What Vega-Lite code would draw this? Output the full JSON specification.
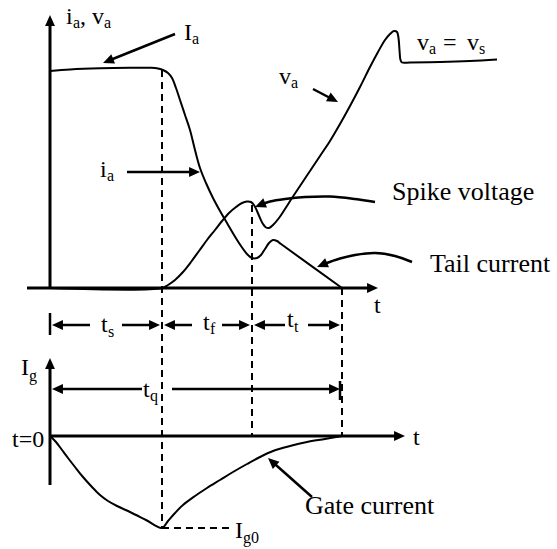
{
  "$schema": "https://vega.github.io/schema/vega-lite/v6.json",
  "width": 557,
  "height": 549,
  "padding": 0,
  "autosize": {"type": "fit", "contains": "padding"},
  "background": "white",
  "config": {"view": {"stroke": null}},
  "datasets": {
    "lines": [
      {"id": "ax1", "role": "axis", "x": 50, "y": 289}, {"id": "ax1", "role": "axis", "x": 50, "y": 22},
      {"id": "ax2", "role": "axis", "x": 27, "y": 288}, {"id": "ax2", "role": "axis", "x": 372, "y": 288},
      {"id": "ax3", "role": "axis", "x": 50, "y": 485}, {"id": "ax3", "role": "axis", "x": 50, "y": 365},
      {"id": "ax4", "role": "axis", "x": 50, "y": 436}, {"id": "ax4", "role": "axis", "x": 399, "y": 436},

      {"id": "ia", "role": "curve", "x": 50, "y": 71}, {"id": "ia", "role": "curve", "x": 70, "y": 69.5},
      {"id": "ia", "role": "curve", "x": 100, "y": 68.3}, {"id": "ia", "role": "curve", "x": 130, "y": 67.8},
      {"id": "ia", "role": "curve", "x": 150, "y": 67.8}, {"id": "ia", "role": "curve", "x": 158, "y": 68.5},
      {"id": "ia", "role": "curve", "x": 164, "y": 70.5}, {"id": "ia", "role": "curve", "x": 168, "y": 73},
      {"id": "ia", "role": "curve", "x": 172, "y": 78}, {"id": "ia", "role": "curve", "x": 176, "y": 88},
      {"id": "ia", "role": "curve", "x": 180, "y": 100}, {"id": "ia", "role": "curve", "x": 185, "y": 115},
      {"id": "ia", "role": "curve", "x": 190, "y": 130}, {"id": "ia", "role": "curve", "x": 195, "y": 150},
      {"id": "ia", "role": "curve", "x": 200, "y": 168}, {"id": "ia", "role": "curve", "x": 206, "y": 183},
      {"id": "ia", "role": "curve", "x": 213, "y": 198}, {"id": "ia", "role": "curve", "x": 220, "y": 211},
      {"id": "ia", "role": "curve", "x": 227, "y": 223}, {"id": "ia", "role": "curve", "x": 234, "y": 235},
      {"id": "ia", "role": "curve", "x": 241, "y": 246}, {"id": "ia", "role": "curve", "x": 247, "y": 254},
      {"id": "ia", "role": "curve", "x": 252, "y": 258}, {"id": "ia", "role": "curve", "x": 257, "y": 258},
      {"id": "ia", "role": "curve", "x": 261, "y": 255}, {"id": "ia", "role": "curve", "x": 265, "y": 249},
      {"id": "ia", "role": "curve", "x": 269, "y": 243}, {"id": "ia", "role": "curve", "x": 273, "y": 240},
      {"id": "ia", "role": "curve", "x": 277, "y": 241}, {"id": "ia", "role": "curve", "x": 281, "y": 244},
      {"id": "ia", "role": "curve", "x": 342, "y": 288},

      {"id": "va", "role": "curve", "x": 50, "y": 288}, {"id": "va", "role": "curve", "x": 162, "y": 288},
      {"id": "va", "role": "curve", "x": 168, "y": 285}, {"id": "va", "role": "curve", "x": 175, "y": 280},
      {"id": "va", "role": "curve", "x": 183, "y": 272}, {"id": "va", "role": "curve", "x": 191, "y": 262},
      {"id": "va", "role": "curve", "x": 199, "y": 251}, {"id": "va", "role": "curve", "x": 207, "y": 240},
      {"id": "va", "role": "curve", "x": 215, "y": 230}, {"id": "va", "role": "curve", "x": 222, "y": 221},
      {"id": "va", "role": "curve", "x": 229, "y": 213}, {"id": "va", "role": "curve", "x": 236, "y": 207},
      {"id": "va", "role": "curve", "x": 242, "y": 203}, {"id": "va", "role": "curve", "x": 247, "y": 201.5},
      {"id": "va", "role": "curve", "x": 251, "y": 202}, {"id": "va", "role": "curve", "x": 254, "y": 205},
      {"id": "va", "role": "curve", "x": 257, "y": 211}, {"id": "va", "role": "curve", "x": 260, "y": 218},
      {"id": "va", "role": "curve", "x": 263, "y": 224}, {"id": "va", "role": "curve", "x": 266, "y": 227.5},
      {"id": "va", "role": "curve", "x": 269, "y": 228}, {"id": "va", "role": "curve", "x": 273, "y": 225},
      {"id": "va", "role": "curve", "x": 279, "y": 218}, {"id": "va", "role": "curve", "x": 285, "y": 209},
      {"id": "va", "role": "curve", "x": 292, "y": 198}, {"id": "va", "role": "curve", "x": 300, "y": 186},
      {"id": "va", "role": "curve", "x": 310, "y": 171}, {"id": "va", "role": "curve", "x": 320, "y": 156},
      {"id": "va", "role": "curve", "x": 330, "y": 141}, {"id": "va", "role": "curve", "x": 340, "y": 124},
      {"id": "va", "role": "curve", "x": 350, "y": 106}, {"id": "va", "role": "curve", "x": 360, "y": 87},
      {"id": "va", "role": "curve", "x": 370, "y": 67}, {"id": "va", "role": "curve", "x": 378, "y": 52},
      {"id": "va", "role": "curve", "x": 385, "y": 40}, {"id": "va", "role": "curve", "x": 390, "y": 34},
      {"id": "va", "role": "curve", "x": 394, "y": 31}, {"id": "va", "role": "curve", "x": 397, "y": 32},
      {"id": "va", "role": "curve", "x": 398.5, "y": 38}, {"id": "va", "role": "curve", "x": 399.5, "y": 50},
      {"id": "va", "role": "curve", "x": 400.5, "y": 60}, {"id": "va", "role": "curve", "x": 402, "y": 62.5},
      {"id": "va", "role": "curve", "x": 410, "y": 62.5}, {"id": "va", "role": "curve", "x": 440, "y": 62},
      {"id": "va", "role": "curve", "x": 470, "y": 61}, {"id": "va", "role": "curve", "x": 497, "y": 59.5},

      {"id": "ig", "role": "curve", "x": 50, "y": 436}, {"id": "ig", "role": "curve", "x": 56, "y": 442},
      {"id": "ig", "role": "curve", "x": 62, "y": 450}, {"id": "ig", "role": "curve", "x": 68, "y": 458},
      {"id": "ig", "role": "curve", "x": 75, "y": 467}, {"id": "ig", "role": "curve", "x": 83, "y": 477},
      {"id": "ig", "role": "curve", "x": 92, "y": 487}, {"id": "ig", "role": "curve", "x": 100, "y": 495},
      {"id": "ig", "role": "curve", "x": 108, "y": 501}, {"id": "ig", "role": "curve", "x": 117, "y": 506},
      {"id": "ig", "role": "curve", "x": 130, "y": 512}, {"id": "ig", "role": "curve", "x": 146, "y": 520},
      {"id": "ig", "role": "curve", "x": 162, "y": 528}, {"id": "ig", "role": "curve", "x": 168, "y": 521},
      {"id": "ig", "role": "curve", "x": 175, "y": 513}, {"id": "ig", "role": "curve", "x": 183, "y": 505},
      {"id": "ig", "role": "curve", "x": 195, "y": 496}, {"id": "ig", "role": "curve", "x": 207, "y": 488},
      {"id": "ig", "role": "curve", "x": 220, "y": 480}, {"id": "ig", "role": "curve", "x": 233, "y": 472},
      {"id": "ig", "role": "curve", "x": 247, "y": 464}, {"id": "ig", "role": "curve", "x": 260, "y": 457},
      {"id": "ig", "role": "curve", "x": 273, "y": 451}, {"id": "ig", "role": "curve", "x": 290, "y": 446},
      {"id": "ig", "role": "curve", "x": 307, "y": 442}, {"id": "ig", "role": "curve", "x": 325, "y": 439},
      {"id": "ig", "role": "curve", "x": 342, "y": 436},

      {"id": "d1", "role": "dash", "x": 162, "y": 70}, {"id": "d1", "role": "dash", "x": 162, "y": 528},
      {"id": "d2", "role": "dash", "x": 252, "y": 205}, {"id": "d2", "role": "dash", "x": 252, "y": 435},
      {"id": "d3", "role": "dash", "x": 342, "y": 288}, {"id": "d3", "role": "dash", "x": 342, "y": 436},
      {"id": "d4", "role": "dash", "x": 162, "y": 528}, {"id": "d4", "role": "dash", "x": 234, "y": 528},

      {"id": "aIa", "role": "arrow", "x": 175, "y": 34}, {"id": "aIa", "role": "arrow", "x": 109, "y": 60.5},
      {"id": "ava", "role": "arrow", "x": 313, "y": 89}, {"id": "ava", "role": "arrow", "x": 334, "y": 100},
      {"id": "aia", "role": "arrow", "x": 127, "y": 172}, {"id": "aia", "role": "arrow", "x": 194, "y": 172},
      {"id": "asp", "role": "arrow", "x": 375, "y": 202}, {"id": "asp", "role": "arrow", "x": 355, "y": 199},
      {"id": "asp", "role": "arrow", "x": 330, "y": 196.5}, {"id": "asp", "role": "arrow", "x": 305, "y": 197},
      {"id": "asp", "role": "arrow", "x": 285, "y": 199}, {"id": "asp", "role": "arrow", "x": 270, "y": 201.5},
      {"id": "asp", "role": "arrow", "x": 261, "y": 204.5},
      {"id": "atl", "role": "arrow", "x": 412, "y": 262}, {"id": "atl", "role": "arrow", "x": 395, "y": 256},
      {"id": "atl", "role": "arrow", "x": 375, "y": 253}, {"id": "atl", "role": "arrow", "x": 355, "y": 255},
      {"id": "atl", "role": "arrow", "x": 340, "y": 258.5}, {"id": "atl", "role": "arrow", "x": 324, "y": 264},
      {"id": "agc", "role": "arrow", "x": 312, "y": 497}, {"id": "agc", "role": "arrow", "x": 272, "y": 461.5},
      {"id": "ts1", "role": "arrow", "x": 90, "y": 325}, {"id": "ts1", "role": "arrow", "x": 57, "y": 325},
      {"id": "ts2", "role": "arrow", "x": 122, "y": 325}, {"id": "ts2", "role": "arrow", "x": 155, "y": 325},
      {"id": "tf1", "role": "arrow", "x": 192, "y": 325}, {"id": "tf1", "role": "arrow", "x": 169, "y": 325},
      {"id": "tf2", "role": "arrow", "x": 222, "y": 325}, {"id": "tf2", "role": "arrow", "x": 245, "y": 325},
      {"id": "tt1", "role": "arrow", "x": 285, "y": 325}, {"id": "tt1", "role": "arrow", "x": 259, "y": 325},
      {"id": "tt2", "role": "arrow", "x": 308, "y": 325}, {"id": "tt2", "role": "arrow", "x": 335, "y": 325},
      {"id": "tq1", "role": "arrow", "x": 142, "y": 389}, {"id": "tq1", "role": "arrow", "x": 57, "y": 389},
      {"id": "tq2", "role": "arrow", "x": 172, "y": 389}, {"id": "tq2", "role": "arrow", "x": 335, "y": 389},
      {"id": "tk1", "role": "arrow", "x": 50, "y": 313}, {"id": "tk1", "role": "arrow", "x": 50, "y": 335},
      {"id": "tk2", "role": "arrow", "x": 340, "y": 381}, {"id": "tk2", "role": "arrow", "x": 340, "y": 400}
    ],
    "heads": [
      {"x": 50, "y": 15, "heading": 0}, {"x": 378, "y": 288, "heading": 90},
      {"x": 50, "y": 358, "heading": 0}, {"x": 405, "y": 436, "heading": 90},
      {"x": 103, "y": 63, "heading": 248}, {"x": 338, "y": 102, "heading": 118},
      {"x": 200, "y": 172, "heading": 90}, {"x": 255, "y": 207, "heading": 248},
      {"x": 317, "y": 267, "heading": 247}, {"x": 268, "y": 458, "heading": 312},
      {"x": 52, "y": 325, "heading": 270}, {"x": 160, "y": 325, "heading": 90},
      {"x": 164, "y": 325, "heading": 270}, {"x": 250, "y": 325, "heading": 90},
      {"x": 254, "y": 325, "heading": 270}, {"x": 340, "y": 325, "heading": 90},
      {"x": 52, "y": 389, "heading": 270}, {"x": 340, "y": 389, "heading": 90}
    ],
    "labels": [
      {"text": "i", "kind": "main", "x": 66, "y": 24}, {"text": ", v", "kind": "main", "x": 80, "y": 24},
      {"text": "I", "kind": "main", "x": 184, "y": 40}, {"text": "v", "kind": "main", "x": 279, "y": 84},
      {"text": "v", "kind": "main", "x": 417, "y": 50}, {"text": "=", "kind": "main", "x": 443, "y": 50},
      {"text": "v", "kind": "main", "x": 467, "y": 50}, {"text": "i", "kind": "main", "x": 100, "y": 177},
      {"text": "t", "kind": "main", "x": 374, "y": 313}, {"text": "t", "kind": "main", "x": 101, "y": 332},
      {"text": "t", "kind": "main", "x": 203, "y": 330}, {"text": "t", "kind": "main", "x": 287, "y": 327},
      {"text": "I", "kind": "main", "x": 21, "y": 375}, {"text": "t", "kind": "main", "x": 143, "y": 397},
      {"text": "t=0", "kind": "main", "x": 12, "y": 447}, {"text": "t", "kind": "main", "x": 413, "y": 445},
      {"text": "I", "kind": "main", "x": 235, "y": 538},
      {"text": "a", "kind": "sub", "x": 73, "y": 28}, {"text": "a", "kind": "sub", "x": 104, "y": 28},
      {"text": "a", "kind": "sub", "x": 192, "y": 44}, {"text": "a", "kind": "sub", "x": 291, "y": 88},
      {"text": "a", "kind": "sub", "x": 429, "y": 54}, {"text": "s", "kind": "sub", "x": 479, "y": 54},
      {"text": "a", "kind": "sub", "x": 107, "y": 181}, {"text": "s", "kind": "sub", "x": 108, "y": 337},
      {"text": "f", "kind": "sub", "x": 210, "y": 334}, {"text": "t", "kind": "sub", "x": 294, "y": 332},
      {"text": "g", "kind": "sub", "x": 29, "y": 381}, {"text": "q", "kind": "sub", "x": 150, "y": 401},
      {"text": "g0", "kind": "sub", "x": 243, "y": 543},
      {"text": "Spike voltage", "kind": "big", "x": 392, "y": 200},
      {"text": "Tail current", "kind": "big", "x": 430, "y": 272},
      {"text": "Gate current", "kind": "big", "x": 305, "y": 514}
    ]
  },
  "encoding": {
    "x": {"field": "x", "type": "quantitative", "scale": {"domain": [0, 557], "nice": false, "zero": false}, "axis": null},
    "y": {"field": "y", "type": "quantitative", "scale": {"domain": [549, 0], "nice": false, "zero": false}, "axis": null}
  },
  "layer": [
    {
      "data": {"name": "lines"},
      "transform": [{"filter": "datum.role === 'dash'"}],
      "mark": {"type": "line", "color": "black", "strokeWidth": 2, "strokeDash": [7, 5]},
      "encoding": {"detail": {"field": "id"}, "order": {"value": null}}
    },
    {
      "data": {"name": "lines"},
      "transform": [{"filter": "datum.role === 'axis'"}],
      "mark": {"type": "line", "color": "black", "strokeWidth": 3},
      "encoding": {"detail": {"field": "id"}, "order": {"value": null}}
    },
    {
      "data": {"name": "lines"},
      "transform": [{"filter": "datum.role === 'curve'"}],
      "mark": {"type": "line", "color": "black", "strokeWidth": 2, "interpolate": "catmull-rom"},
      "encoding": {"detail": {"field": "id"}, "order": {"value": null}}
    },
    {
      "data": {"name": "lines"},
      "transform": [{"filter": "datum.role === 'arrow'"}],
      "mark": {"type": "line", "color": "black", "strokeWidth": 2.5, "interpolate": "catmull-rom"},
      "encoding": {"detail": {"field": "id"}, "order": {"value": null}}
    },
    {
      "data": {"name": "heads"},
      "mark": {"type": "point", "shape": "M0,0L0.9,2L-0.9,2Z", "filled": true, "color": "black", "opacity": 1, "size": 120, "strokeWidth": 0},
      "encoding": {"angle": {"field": "heading", "type": "quantitative", "scale": null}}
    },
    {
      "data": {"name": "labels"},
      "transform": [{"filter": "datum.kind === 'main'"}],
      "mark": {"type": "text", "font": "Liberation Serif", "fontSize": 24, "align": "left", "baseline": "alphabetic", "color": "black"},
      "encoding": {"text": {"field": "text"}}
    },
    {
      "data": {"name": "labels"},
      "transform": [{"filter": "datum.kind === 'sub'"}],
      "mark": {"type": "text", "font": "Liberation Serif", "fontSize": 16, "align": "left", "baseline": "alphabetic", "color": "black"},
      "encoding": {"text": {"field": "text"}}
    },
    {
      "data": {"name": "labels"},
      "transform": [{"filter": "datum.kind === 'big'"}],
      "mark": {"type": "text", "font": "Liberation Serif", "fontSize": 26, "align": "left", "baseline": "alphabetic", "color": "black"},
      "encoding": {"text": {"field": "text"}}
    }
  ]
}
